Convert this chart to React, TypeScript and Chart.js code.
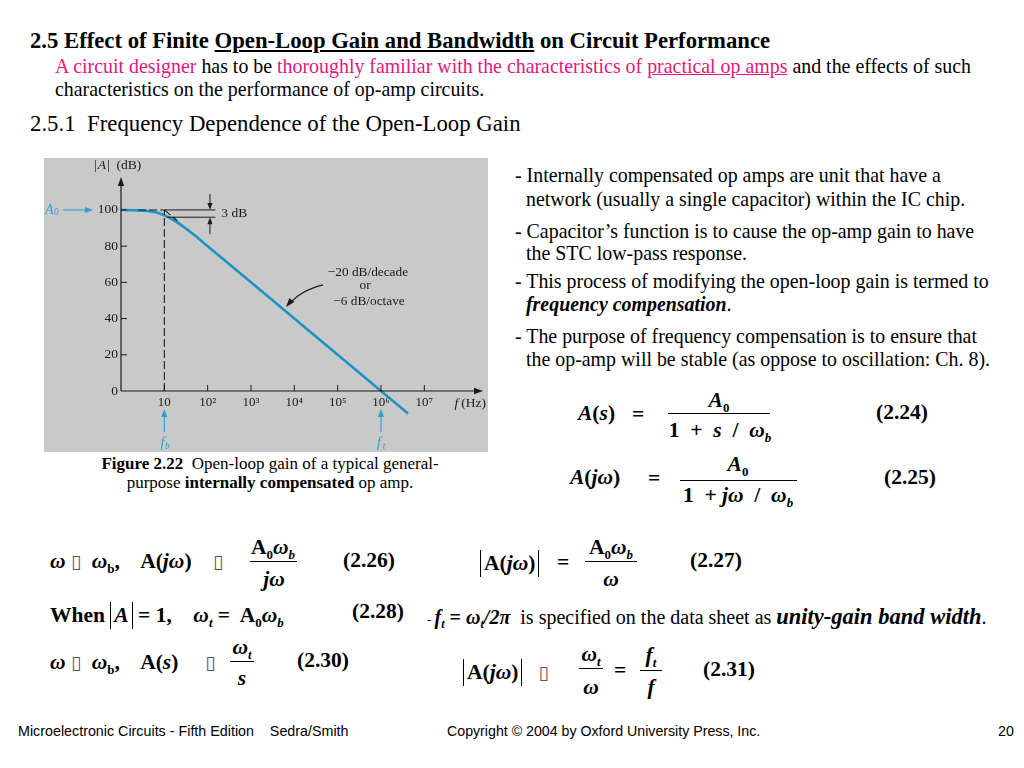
import React, { useEffect, useRef } from "react";
import { Chart, registerables } from "chart.js";

Chart.register(...registerables);

// ---- chart data ----
const freqHz = [1, 2, 4, 7, 10, 15, 25, 50, 100, 1e3, 1e4, 1e5, 1e6, 4.2e6];
const gainDb = [100, 99.8, 99.4, 98.4, 97, 95, 91.5, 86, 80, 60, 40, 20, 0, -12.4];
const xTickValues = [10, 100, 1e3, 1e4, 1e5, 1e6, 1e7];
const xTickLabels = ["10", "10²", "10³", "10⁴", "10⁵", "10⁶", "10⁷"];
const yTickValues = [0, 20, 40, 60, 80, 100];
const slopeLabels = ["−20 dB/decade", "or", "−6 dB/octave"];

const SERIF = '"Liberation Serif","Times New Roman",serif';
const SANS = '"Liberation Sans",Arial,sans-serif';
const CURVE = "#1f92c6";
const BLUE = "#2e9ed3";
const PINK = "#e4177c";
const INK = "#1a1a1a";

function arrowHead(ctx: CanvasRenderingContext2D, x: number, y: number, ang: number, len = 8, w = 3.2) {
  ctx.beginPath();
  ctx.moveTo(x, y);
  ctx.lineTo(x - len * Math.cos(ang) + w * Math.sin(ang), y - len * Math.sin(ang) - w * Math.cos(ang));
  ctx.lineTo(x - len * Math.cos(ang) - w * Math.sin(ang), y - len * Math.sin(ang) + w * Math.cos(ang));
  ctx.closePath();
  ctx.fill();
}

function line(ctx: CanvasRenderingContext2D, x1: number, y1: number, x2: number, y2: number) {
  ctx.beginPath();
  ctx.moveTo(x1, y1);
  ctx.lineTo(x2, y2);
  ctx.stroke();
}

const annotPlugin = {
  id: "annot",
  afterDraw(chart: any) {
    const ctx: CanvasRenderingContext2D = chart.ctx;
    const xs = chart.scales.x;
    const ys = chart.scales.y;
    const X = (v: number) => xs.getPixelForValue(v);
    const Y = (v: number) => ys.getPixelForValue(v);
    const area = chart.chartArea;
    const x0 = X(1);
    const y0 = Y(0);
    ctx.save();
    // axes
    ctx.strokeStyle = INK;
    ctx.fillStyle = INK;
    ctx.lineWidth = 1.2;
    line(ctx, x0, y0, x0, area.top + 4);
    arrowHead(ctx, x0, area.top, -Math.PI / 2, 9, 3.2);
    line(ctx, x0, y0, area.right - 4, y0);
    arrowHead(ctx, area.right, y0, 0, 9, 3.2);
    // tick marks (inside)
    ctx.lineWidth = 1;
    xTickValues.forEach((v) => line(ctx, X(v), y0, X(v), y0 - 6));
    yTickValues.filter((v) => v > 0).forEach((v) => line(ctx, x0, Y(v), x0 + 6, Y(v)));
    // dashed guides
    ctx.lineWidth = 1.1;
    ctx.setLineDash([8, 3]);
    line(ctx, X(10), y0, X(10), Y(100));
    line(ctx, X(2.5), Y(100), X(10), Y(100));
    line(ctx, X(10), Y(100), X(20), Y(94));
    ctx.setLineDash([]);
    ctx.lineWidth = 1;
    // 3 dB dimension
    line(ctx, X(10), Y(100), X(150), Y(100));
    line(ctx, X(11.5), Y(96), X(150), Y(96));
    const xa = X(113);
    line(ctx, xa, Y(100) - 16, xa, Y(100) - 4);
    arrowHead(ctx, xa, Y(100), Math.PI / 2, 7, 2.6);
    line(ctx, xa, Y(96) + 17, xa, Y(96) + 4);
    arrowHead(ctx, xa, Y(96), -Math.PI / 2, 7, 2.6);
    ctx.font = `13.5px ${SERIF}`;
    ctx.textBaseline = "middle";
    ctx.textAlign = "left";
    ctx.fillText("3 dB", X(150) + 6, (Y(100) + Y(96)) / 2);
    // slope annotation
    ctx.font = `13.3px ${SERIF}`;
    ctx.textAlign = "center";
    ctx.fillText(slopeLabels[0], X(5e5), Y(65.7));
    ctx.fillText(slopeLabels[1], X(4.3e5), Y(58.4));
    ctx.fillText(slopeLabels[2], X(5.3e5), Y(49.6));
    const sx = X(4.6e4), sy = Y(58.6), ex = X(6.1e3) + 1, ey = Y(45.9) - 1;
    const cx = (sx + ex) / 2 - 5, cy = (sy + ey) / 2 - 5;
    ctx.lineWidth = 1.1;
    ctx.beginPath();
    ctx.moveTo(sx, sy);
    ctx.quadraticCurveTo(cx, cy, ex + 4, ey - 3);
    ctx.stroke();
    arrowHead(ctx, ex, ey, Math.atan2(ey - cy, ex - cx), 9, 3.2);
    // axis titles
    ctx.textAlign = "left";
    ctx.font = `13.5px ${SERIF}`;
    let tx = x0 - 27;
    const ty = area.top - 12;
    ctx.fillText("|", tx, ty);
    tx += ctx.measureText("|").width + 1;
    ctx.font = `italic 13.5px ${SERIF}`;
    ctx.fillText("A", tx, ty);
    tx += ctx.measureText("A").width + 1;
    ctx.font = `13.5px ${SERIF}`;
    ctx.fillText("|  (dB)", tx, ty);
    ctx.textAlign = "right";
    ctx.fillText("(Hz)", area.right + 3, y0 + 12);
    const hzw = ctx.measureText("(Hz)").width;
    ctx.font = `italic 13.5px ${SERIF}`;
    ctx.fillText("f", area.right + 3 - hzw - 3, y0 + 12);
    // A0 marker (blue)
    ctx.fillStyle = BLUE;
    ctx.strokeStyle = BLUE;
    ctx.textAlign = "left";
    ctx.font = `italic 14px ${SERIF}`;
    ctx.fillText("A", x0 - 76, Y(100));
    ctx.font = `italic 9.5px ${SERIF}`;
    ctx.fillText("0", x0 - 67, Y(100) + 3);
    ctx.lineWidth = 1.1;
    line(ctx, x0 - 58, Y(100), x0 - 34, Y(100));
    arrowHead(ctx, x0 - 28, Y(100), 0, 8, 3);
    // fb, ft markers
    [
      [10, "b"],
      [1e6, "t"],
    ].forEach(([v, s]: any) => {
      const px = X(v);
      line(ctx, px, y0 + 41, px, y0 + 24);
      arrowHead(ctx, px, y0 + 18, -Math.PI / 2, 8, 3);
      ctx.textAlign = "center";
      ctx.font = `italic 14px ${SERIF}`;
      ctx.fillText("f", px - 2, y0 + 52);
      ctx.font = `italic 9.5px ${SERIF}`;
      ctx.fillText(s, px + 3, y0 + 55);
    });
    ctx.restore();
  },
};

function GainChart() {
  const ref = useRef<HTMLCanvasElement>(null);
  useEffect(() => {
    const canvas = ref.current!;
    const chart = new Chart(canvas, {
      type: "line",
      data: {
        datasets: [
          {
            data: freqHz.map((f, i) => ({ x: f, y: gainDb[i] })),
            borderColor: CURVE,
            borderWidth: 2.6,
            pointRadius: 0,
            cubicInterpolationMode: "monotone",
            clip: false as any,
          } as any,
        ],
      },
      options: {
        responsive: false,
        animation: false,
        layout: { padding: { left: 0, top: 19, right: 5, bottom: 0 } },
        plugins: { legend: { display: false }, tooltip: { enabled: false } },
        scales: {
          x: {
            type: "logarithmic",
            min: 1,
            max: 2.26e8,
            grid: { display: false, drawTicks: false },
            border: { display: false },
            afterBuildTicks: (s: any) => {
              s.ticks = xTickValues.map((v) => ({ value: v }));
            },
            afterFit: (s: any) => {
              s.height = 61;
            },
            ticks: {
              autoSkip: false,
              maxRotation: 0,
              padding: 4,
              color: INK,
              font: { family: SERIF, size: 13 },
              callback: (_v: any, i: number) => xTickLabels[i],
            },
          },
          y: {
            type: "linear",
            min: 0,
            max: 118.2,
            grid: { display: false, drawTicks: false },
            border: { display: false },
            afterBuildTicks: (s: any) => {
              s.ticks = yTickValues.map((v) => ({ value: v }));
            },
            afterFit: (s: any) => {
              s.width = 77;
            },
            ticks: {
              padding: 3,
              color: INK,
              font: { family: SERIF, size: 13.5 },
            },
          },
        },
      },
      plugins: [annotPlugin],
    } as any);
    return () => chart.destroy();
  }, []);
  return (
    <canvas
      ref={ref}
      width={444}
      height={294}
      style={{ position: "absolute", left: 44, top: 158, width: 444, height: 294, background: "#c9c9c9" }}
    />
  );
}

function T({ x, y, s, c, b, i, center, font, children }: any) {
  return (
    <div
      style={{
        position: "absolute",
        left: x,
        top: y - s / 2,
        fontSize: s,
        lineHeight: `${s}px`,
        whiteSpace: "nowrap",
        fontFamily: font || SERIF,
        fontWeight: b ? "bold" : "normal",
        fontStyle: i ? "italic" : "normal",
        color: c || "#000",
        transform: center ? "translateX(-50%)" : undefined,
      }}
    >
      {children}
    </div>
  );
}

const Sub = ({ children }: any) => (
  <span style={{ fontSize: "0.6em", position: "relative", top: "0.35em" }}>{children}</span>
);
const I = ({ children }: any) => <i>{children}</i>;
const HL = ({ x1, x2, y }: any) => (
  <div style={{ position: "absolute", left: x1, top: y, width: x2 - x1, height: 0, borderTop: "1.3px solid #000" }} />
);
const Abs = ({ children }: any) => (
  <span style={{ display: "inline-block", borderLeft: "1.3px solid #000", borderRight: "1.3px solid #000", padding: "0 3px", lineHeight: "27px" }}>
    {children}
  </span>
);
const Box = () => (
  <span style={{ fontWeight: "normal", fontFamily: '"DejaVu Sans",sans-serif', color: "#555", fontSize: "0.85em" }}>▯</span>
);

export default function App() {
  const E = 21.5; // equation font size
  return (
    <div style={{ position: "absolute", left: 0, top: 0, width: 1024, height: 768, background: "#fff", overflow: "hidden" }}>
      <T x={30} y={41} s={22.7} b>
        2.5 Effect of Finite <u>Open-Loop Gain and Bandwidth</u> on Circuit Performance
      </T>
      <T x={55} y={67} s={19.9}>
        <span style={{ color: PINK }}>A circuit designer</span> has to be{" "}
        <span style={{ color: PINK }}>thoroughly familiar with the characteristics of</span>{" "}
        <u style={{ color: PINK }}>practical op amps</u> and the effects of such
      </T>
      <T x={55} y={90} s={19.9}>
        characteristics on the performance of op-amp circuits.
      </T>
      <T x={30} y={124} s={22.8}>
        2.5.1&nbsp; Frequency Dependence of the Open-Loop Gain
      </T>

      <GainChart />

      <T x={270} y={463} s={17} center>
        <b>Figure 2.22</b>&nbsp; Open-loop gain of a typical general-
      </T>
      <T x={270} y={482} s={17} center>
        purpose <b>internally compensated</b> op amp.
      </T>

      {/* right text block */}
      <T x={515} y={176} s={19.9}>- Internally compensated op amps are unit that have a</T>
      <T x={526} y={200} s={19.9}>network (usually a single capacitor) within the IC chip.</T>
      <T x={515} y={232} s={19.9}>- Capacitor’s function is to cause the op-amp gain to have</T>
      <T x={526} y={254} s={19.9}>the STC low-pass response.</T>
      <T x={515} y={282} s={19.9}>- This process of modifying the open-loop gain is termed to</T>
      <T x={526} y={305} s={19.9}>
        <b>
          <i>frequency compensation</i>
        </b>
        .
      </T>
      <T x={515} y={337} s={19.9}>- The purpose of frequency compensation is to ensure that</T>
      <T x={526} y={360} s={19.9}>the op-amp will be stable (as oppose to oscillation: Ch. 8).</T>

      {/* (2.24) */}
      <T x={578} y={414} s={E} b>
        <I>A</I>(<I>s</I>)
      </T>
      <T x={632} y={415} s={E} b>=</T>
      <T x={719} y={401} s={E} b center>
        <I>A</I>
        <Sub>0</Sub>
      </T>
      <HL x1={668} x2={770} y={413} />
      <T x={720} y={431} s={E} b center>
        1&nbsp; +&nbsp; <I>s</I>&nbsp; /&nbsp; <I>ω</I>
        <Sub>
          <I>b</I>
        </Sub>
      </T>
      <T x={876} y={413} s={E} b>(2.24)</T>

      {/* (2.25) */}
      <T x={570} y={478} s={E} b>
        <I>A</I>(<I>jω</I>)
      </T>
      <T x={648} y={479} s={E} b>=</T>
      <T x={738} y={465} s={E} b center>
        <I>A</I>
        <Sub>0</Sub>
      </T>
      <HL x1={680} x2={797} y={480} />
      <T x={738} y={496} s={E} b center>
        1&nbsp; +&nbsp;<I>jω</I>&nbsp; /&nbsp; <I>ω</I>
        <Sub>
          <I>b</I>
        </Sub>
      </T>
      <T x={884} y={478} s={E} b>(2.25)</T>

      {/* (2.26) */}
      <T x={50} y={562} s={E} b>
        <I>ω</I> <Box />&nbsp; <I>ω</I>
        <Sub>b</Sub>,&nbsp;&nbsp;&nbsp; A(<I>jω</I>)&nbsp;&nbsp;&nbsp; <Box />
      </T>
      <T x={273} y={548} s={E} b center>
        A<Sub>0</Sub>
        <I>ω</I>
        <Sub>
          <I>b</I>
        </Sub>
      </T>
      <HL x1={250} x2={297} y={561} />
      <T x={274} y={580} s={E} b center>
        <I>jω</I>
      </T>
      <T x={343} y={561} s={E} b>(2.26)</T>

      {/* (2.27) */}
      <T x={480} y={561} s={E} b>
        <Abs>
          A(<I>jω</I>)
        </Abs>
      </T>
      <T x={557} y={563} s={E} b>=</T>
      <T x={611} y={548} s={E} b center>
        A<Sub>0</Sub>
        <I>ω</I>
        <Sub>
          <I>b</I>
        </Sub>
      </T>
      <HL x1={585} x2={637} y={561} />
      <T x={611} y={580} s={E} b center>
        <I>ω</I>
      </T>
      <T x={690} y={561} s={E} b>(2.27)</T>

      {/* (2.28) */}
      <T x={50} y={613} s={E} b>
        When&nbsp;
        <Abs>
          <I>A</I>
        </Abs>
        &nbsp;= 1,&nbsp;&nbsp;&nbsp; <I>ω</I>
        <Sub>
          <I>t</I>
        </Sub>
        &nbsp;=&nbsp; A<Sub>0</Sub>
        <I>ω</I>
        <Sub>
          <I>b</I>
        </Sub>
      </T>
      <T x={352} y={612} s={E} b>(2.28)</T>
      <T x={427} y={617} s={20}>
        <span style={{ fontSize: 13 }}>- </span>
        <b>
          <I>f</I>
          <Sub>
            <I>t</I>
          </Sub>{" "}
          = <I>ω</I>
          <Sub>
            <I>t</I>
          </Sub>
          <I>/2π</I>
        </b>
        &nbsp; is specified on the data sheet as{" "}
        <b style={{ fontSize: 22.5 }}>
          <I>unity-gain band width</I>
        </b>
        .
      </T>

      {/* (2.30) */}
      <T x={50} y={663} s={E} b>
        <I>ω</I> <Box />&nbsp; <I>ω</I>
        <Sub>b</Sub>,&nbsp;&nbsp;&nbsp; A(<I>s</I>)&nbsp;&nbsp;&nbsp;&nbsp; <Box />
      </T>
      <T x={242} y={648} s={E} b center>
        <I>ω</I>
        <Sub>
          <I>t</I>
        </Sub>
      </T>
      <HL x1={230} x2={254} y={661} />
      <T x={242} y={679} s={E} b center>
        <I>s</I>
      </T>
      <T x={297} y={661} s={E} b>(2.30)</T>

      {/* (2.31) */}
      <T x={463} y={670} s={E} b>
        <Abs>
          A(<I>jω</I>)
        </Abs>
        &nbsp;&nbsp; <Box />
      </T>
      <T x={591} y={655} s={E} b center>
        <I>ω</I>
        <Sub>
          <I>t</I>
        </Sub>
      </T>
      <HL x1={579} x2={603} y={668} />
      <T x={591} y={688} s={E} b center>
        <I>ω</I>
      </T>
      <T x={614} y={671} s={E} b>=</T>
      <T x={651} y={656} s={E} b center>
        <I>f</I>
        <Sub>
          <I>t</I>
        </Sub>
      </T>
      <HL x1={640} x2={662} y={670} />
      <T x={651} y={688} s={E} b center>
        <I>f</I>
      </T>
      <T x={703} y={670} s={E} b>(2.31)</T>

      {/* footer */}
      <T x={18} y={731} s={14.3} font={SANS}>
        Microelectronic Circuits - Fifth Edition&nbsp;&nbsp;&nbsp; Sedra/Smith
      </T>
      <T x={447} y={731} s={14.2} font={SANS}>
        Copyright © 2004 by Oxford University Press, Inc.
      </T>
      <T x={998} y={731} s={14.2} font={SANS}>
        20
      </T>
    </div>
  );
}
